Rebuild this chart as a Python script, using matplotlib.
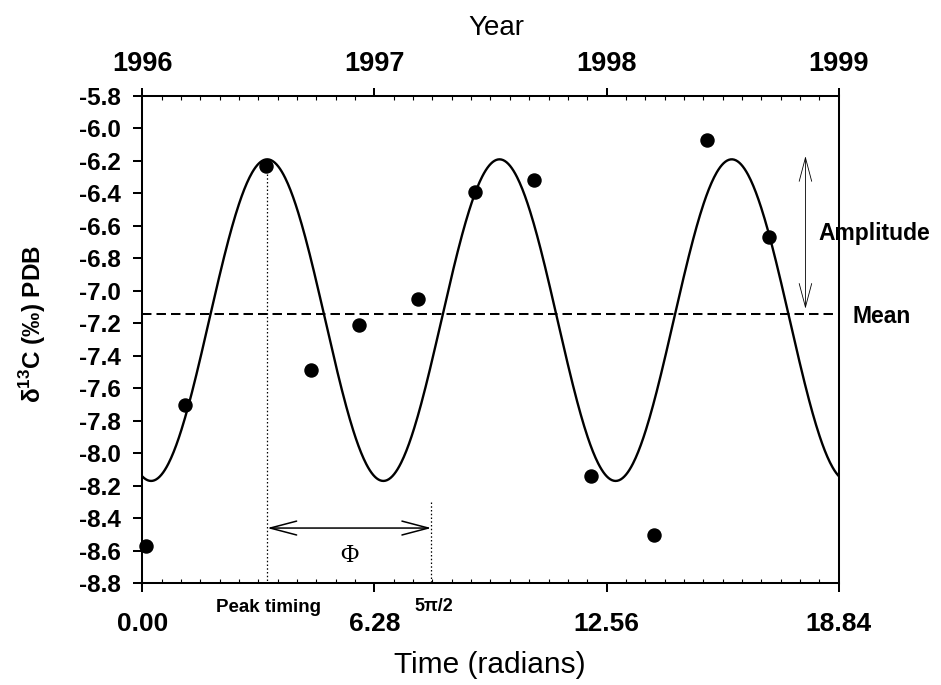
import numpy as np
import matplotlib
matplotlib.use('Agg')
import matplotlib.pyplot as plt
from matplotlib.ticker import MultipleLocator, FixedLocator, FixedFormatter

# ---------------- data ----------------
time_rad = [0.09, 1.16, 3.35, 4.56, 5.86, 7.45, 9.00, 10.60, 12.13, 13.85, 15.27, 16.96]
d13c = [-8.57, -7.70, -6.23, -7.49, -7.21, -7.05, -6.39, -6.32, -8.14, -8.50, -6.07, -6.67]

# fitted sinusoid parameters
curve_mean = -7.18
curve_amplitude = 0.99
peak_timing = 3.38
phase_end = 7.82          # 5π/2 marker
mean_value = -7.14

x_ticks = [0.0, 6.28, 12.56, 18.84]
x_tick_labels = ['0.00', '6.28', '12.56', '18.84']
year_labels = ['1996', '1997', '1998', '1999']
y_ticks = [-8.8, -8.6, -8.4, -8.2, -8.0, -7.8, -7.6, -7.4, -7.2, -7.0,
           -6.8, -6.6, -6.4, -6.2, -6.0, -5.8]
y_tick_labels = ['%.1f' % v for v in y_ticks]

# ---------------- style ----------------
plt.rcParams['font.family'] = ['Liberation Sans', 'DejaVu Sans']
plt.rcParams['font.weight'] = 'bold'
plt.rcParams['axes.unicode_minus'] = False
plt.rcParams['mathtext.fontset'] = 'custom'
plt.rcParams['mathtext.rm'] = 'Liberation Sans:bold'
plt.rcParams['mathtext.bf'] = 'Liberation Sans:bold'

fig = plt.figure(figsize=(9.41, 6.85), dpi=100)
ax = fig.add_axes([0.1512, 0.1485, 0.7401, 0.7114])

xmin, xmax = 0.0, 18.84
ymin, ymax = -8.8, -5.8

xc = np.linspace(xmin, xmax, 800)
yc = curve_mean + curve_amplitude * np.cos(xc - peak_timing)
ax.plot(xc, yc, color='black', lw=1.7, zorder=3)

ax.plot(time_rad, d13c, 'o', color='black', markersize=9.4, zorder=4, clip_on=False)

# mean line
ax.axhline(mean_value, color='black', lw=1.45, linestyle=(0, (4.7, 2.5)), zorder=2)

# dotted guides
ax.plot([peak_timing, peak_timing], [curve_mean + curve_amplitude, ymin],
        color='black', lw=0.9, linestyle=(0, (1.2, 1.8)), zorder=2)
ax.plot([phase_end, phase_end], [-8.30, ymin],
        color='black', lw=0.9, linestyle=(0, (1.2, 1.8)), zorder=2)

# phase arrow
ax.annotate('', xy=(phase_end, -8.46), xytext=(peak_timing, -8.46),
            arrowprops=dict(arrowstyle='<->,head_length=1.9,head_width=0.5',
                            color='black', lw=1.1, shrinkA=0, shrinkB=0,
                            mutation_scale=10))
ax.text(5.61, -8.667, 'Φ', family=['Liberation Serif'], fontweight='normal',
        fontsize=18, ha='center', va='baseline')

# amplitude arrow
ax.annotate('', xy=(17.94, -6.17), xytext=(17.94, -7.11),
            arrowprops=dict(arrowstyle='<->,head_length=1.7,head_width=0.45',
                            color='black', lw=0.6, shrinkA=0, shrinkB=0,
                            mutation_scale=10), annotation_clip=False)
ax.text(18.28, -6.687, 'Amplitude', fontsize=16.5, fontweight='bold',
        ha='left', va='baseline', clip_on=False)
ax.text(19.21, -7.20, 'Mean', fontsize=16.5, fontweight='bold',
        ha='left', va='baseline', clip_on=False)

ax.text(3.42, -8.977, 'Peak timing', fontsize=13.5, fontweight='bold',
        ha='center', va='baseline', clip_on=False)
ax.text(7.90, -8.968, '5π/2', fontsize=13, fontweight='bold',
        ha='center', va='baseline', clip_on=False)

# axes
ax.set_xlim(xmin, xmax)
ax.set_ylim(ymin, ymax)
for s in ['left', 'right', 'top', 'bottom']:
    ax.spines[s].set_linewidth(1.45)

ax.xaxis.set_major_locator(FixedLocator(x_ticks))
ax.xaxis.set_major_formatter(FixedFormatter(x_tick_labels))
ax.xaxis.set_minor_locator(MultipleLocator(xmax / 36))
ax.yaxis.set_major_locator(FixedLocator(y_ticks))
ax.yaxis.set_major_formatter(FixedFormatter(y_tick_labels))

ax.tick_params(axis='x', which='major', direction='out', length=6.5, width=1.45,
               labelsize=19, pad=14)
ax.tick_params(axis='x', which='minor', direction='in', length=3, width=0.8)
ax.tick_params(axis='y', which='major', direction='out', length=6.5, width=1.45,
               labelsize=17.5, pad=9, right=False)

ax2 = ax.twiny()
ax2.set_xlim(xmin, xmax)
ax2.xaxis.set_major_locator(FixedLocator(x_ticks))
ax2.xaxis.set_major_formatter(FixedFormatter(year_labels))
ax2.xaxis.set_minor_locator(MultipleLocator(xmax / 36))
ax2.tick_params(axis='x', which='major', direction='out', length=6, width=1.45,
                labelsize=19.5, pad=8)
ax2.tick_params(axis='x', which='minor', direction='in', length=3, width=0.8)
for s in ['left', 'right', 'top', 'bottom']:
    ax2.spines[s].set_linewidth(1.45)

fig.text(0.527, 0.949, 'Year', fontsize=20, fontweight='normal',
         ha='center', va='baseline')
fig.text(0.521, 0.0175, 'Time (radians)', fontsize=21.5, fontweight='normal',
         ha='center', va='baseline')
fig.text(0.0351, 0.527, r'δ$^{13}$C (‰) PDB', fontsize=17.5, fontweight='bold',
         rotation=90, ha='center', va='center')

fig.savefig('out.png', dpi=100)
